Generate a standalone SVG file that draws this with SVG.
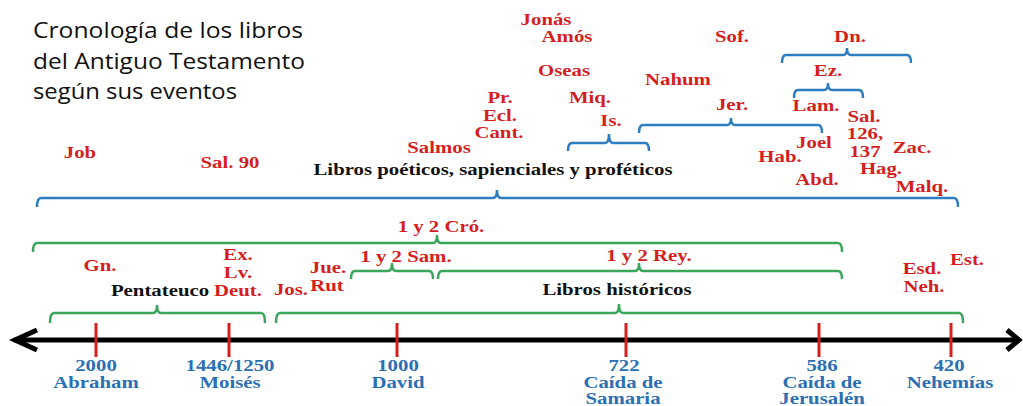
<svg xmlns="http://www.w3.org/2000/svg" width="1023" height="406" viewBox="0 0 1023 406">
<style>
text{font-family:"Liberation Serif","Times New Roman",serif;font-weight:bold;font-size:16px;text-anchor:middle}
.r{fill:#d51f1f}
.b{fill:#2b6fb5}
.k{fill:#111}
.t{font-family:"Open Sans","Noto Sans",sans-serif;font-weight:normal;font-size:22px;text-anchor:start;fill:#111}
.bb{fill:none;stroke:#2e7dc0;stroke-width:2.5}
.gb{fill:none;stroke:#3aa65b;stroke-width:2.5}
.tick{stroke:#d51f1f;stroke-width:3}
.axis{fill:none;stroke:#000;stroke-width:5}
</style>
<rect width="1023" height="406" fill="#fff"/>
<g id="title">
<text class="t" x="33" y="38" textLength="270" lengthAdjust="spacingAndGlyphs">Cronología de los libros</text>
<text class="t" x="33" y="69" textLength="272" lengthAdjust="spacingAndGlyphs">del Antiguo Testamento</text>
<text class="t" x="33" y="99" textLength="204" lengthAdjust="spacingAndGlyphs">según sus eventos</text>
</g>
<g id="connectors">
<g id="axis">
<line class="axis" x1="14" y1="340" x2="1019" y2="340"/>
<path class="axis" d="M37 330 L15 340 L37 350"/>
<path class="axis" d="M1007 330 L1019 340 L1007 350"/>
</g>
<g id="ticks">
<line class="tick" x1="96" y1="323" x2="96" y2="357"/>
<line class="tick" x1="229" y1="323" x2="229" y2="357"/>
<line class="tick" x1="397" y1="323" x2="397" y2="357"/>
<line class="tick" x1="626" y1="323" x2="626" y2="357"/>
<line class="tick" x1="819" y1="323" x2="819" y2="357"/>
<line class="tick" x1="951" y1="323" x2="951" y2="357"/>
</g>
<g id="blue-braces">
<path class="bb" d="M37 207 Q37 198 41 198 L493 198 Q497 198 497 190 Q497 198 501 198 L954 198 Q958 198 958 207"/>
<path class="bb" d="M568 151 Q568 143 572 143 L605 143 Q609 143 609 134 Q609 143 613 143 L645 143 Q649 143 649 151"/>
<path class="bb" d="M639 133 Q639 125 643 125 L727 125 Q731 125 731 118 Q731 125 735 125 L818 125 Q822 125 822 133"/>
<path class="bb" d="M782 63 Q782 55 786 55 L843 55 Q847 55 847 48 Q847 55 851 55 L907 55 Q911 55 911 63"/>
<path class="bb" d="M794 98 Q794 90 798 90 L824 90 Q828 90 828 83 Q828 90 832 90 L859 90 Q863 90 863 98"/>
</g>
<g id="green-braces">
<path class="gb" d="M33 252 Q33 243 37 243 L433 243 Q437 243 437 235 Q437 243 441 243 L838 243 Q842 243 842 252"/>
<path class="gb" d="M351 279 Q351 271 355 271 L388 271 Q392 271 392 263 Q392 271 396 271 L429 271 Q433 271 433 279"/>
<path class="gb" d="M438 279 Q438 271 442 271 L635 271 Q639 271 639 263 Q639 271 643 271 L838 271 Q842 271 842 279"/>
<path class="gb" d="M50 323 Q50 313 54 313 L153 313 Q157 313 157 305 Q157 313 161 313 L261 313 Q265 313 265 323"/>
<path class="gb" d="M276 323 Q276 313 280 313 L615 313 Q619 313 619 304 Q619 313 623 313 L959 313 Q963 313 963 323"/>
</g>
</g>
<g id="categories">
<text class="k" transform="translate(493 175) scale(1.3 1)">Libros poéticos, sapienciales y proféticos</text>
<text class="k" transform="translate(160 296) scale(1.3 1)">Pentateuco</text>
<text class="k" transform="translate(617 295) scale(1.3 1)">Libros históricos</text>
</g>
<g id="books">
<text class="r" transform="translate(80 158) scale(1.3 1)">Job</text>
<text class="r" transform="translate(230 168) scale(1.3 1)">Sal. 90</text>
<text class="r" transform="translate(439 153) scale(1.3 1)">Salmos</text>
<text class="r" transform="translate(500 103) scale(1.3 1)">Pr.</text>
<text class="r" transform="translate(500 121) scale(1.3 1)">Ecl.</text>
<text class="r" transform="translate(499 138) scale(1.3 1)">Cant.</text>
<text class="r" transform="translate(546 25) scale(1.3 1)">Jonás</text>
<text class="r" transform="translate(567 42) scale(1.3 1)">Amós</text>
<text class="r" transform="translate(564 76) scale(1.3 1)">Oseas</text>
<text class="r" transform="translate(590 103) scale(1.3 1)">Miq.</text>
<text class="r" transform="translate(611 126) scale(1.3 1)">Is.</text>
<text class="r" transform="translate(678 85) scale(1.3 1)">Nahum</text>
<text class="r" transform="translate(732 42) scale(1.3 1)">Sof.</text>
<text class="r" transform="translate(732 110) scale(1.3 1)">Jer.</text>
<text class="r" transform="translate(850 42) scale(1.3 1)">Dn.</text>
<text class="r" transform="translate(828 76) scale(1.3 1)">Ez.</text>
<text class="r" transform="translate(816 111) scale(1.3 1)">Lam.</text>
<text class="r" transform="translate(814 148) scale(1.3 1)">Joel</text>
<text class="r" transform="translate(780 162) scale(1.3 1)">Hab.</text>
<text class="r" transform="translate(817 185) scale(1.3 1)">Abd.</text>
<text class="r" transform="translate(864 122) scale(1.3 1)">Sal.</text>
<text class="r" transform="translate(865 139) scale(1.3 1)">126,</text>
<text class="r" transform="translate(865 157) scale(1.3 1)">137</text>
<text class="r" transform="translate(912 153) scale(1.3 1)">Zac.</text>
<text class="r" transform="translate(881 174) scale(1.3 1)">Hag.</text>
<text class="r" transform="translate(922 192) scale(1.3 1)">Malq.</text>
<text class="r" transform="translate(441 232) scale(1.3 1)">1 y 2 Cró.</text>
<text class="r" transform="translate(406 262) scale(1.3 1)">1 y 2 Sam.</text>
<text class="r" transform="translate(649 261) scale(1.3 1)">1 y 2 Rey.</text>
<text class="r" transform="translate(100 271) scale(1.3 1)">Gn.</text>
<text class="r" transform="translate(238 260) scale(1.3 1)">Ex.</text>
<text class="r" transform="translate(238 278) scale(1.3 1)">Lv.</text>
<text class="r" transform="translate(238 296) scale(1.3 1)">Deut.</text>
<text class="r" transform="translate(291 295) scale(1.3 1)">Jos.</text>
<text class="r" transform="translate(328 273) scale(1.3 1)">Jue.</text>
<text class="r" transform="translate(327 291) scale(1.3 1)">Rut</text>
<text class="r" transform="translate(967 265) scale(1.3 1)">Est.</text>
<text class="r" transform="translate(922 274) scale(1.3 1)">Esd.</text>
<text class="r" transform="translate(924 292) scale(1.3 1)">Neh.</text>
</g>
<g id="dates">
<g id="d2000"><text class="b" transform="translate(96 371) scale(1.3 1)">2000</text><text class="b" transform="translate(96 388) scale(1.3 1)">Abraham</text></g>
<g id="d1446"><text class="b" transform="translate(230 371) scale(1.3 1)">1446/1250</text><text class="b" transform="translate(230 388) scale(1.3 1)">Moisés</text></g>
<g id="d1000"><text class="b" transform="translate(398 371) scale(1.3 1)">1000</text><text class="b" transform="translate(398 388) scale(1.3 1)">David</text></g>
<g id="d722"><text class="b" transform="translate(624 371) scale(1.3 1)">722</text><text class="b" transform="translate(623 388) scale(1.3 1)">Caída de</text><text class="b" transform="translate(623 404) scale(1.3 1)">Samaria</text></g>
<g id="d586"><text class="b" transform="translate(822 371) scale(1.3 1)">586</text><text class="b" transform="translate(822 388) scale(1.3 1)">Caída de</text><text class="b" transform="translate(822 404) scale(1.3 1)">Jerusalén</text></g>
<g id="d420"><text class="b" transform="translate(949 371) scale(1.3 1)">420</text><text class="b" transform="translate(950 388) scale(1.3 1)">Nehemías</text></g>
</g>
</svg>
